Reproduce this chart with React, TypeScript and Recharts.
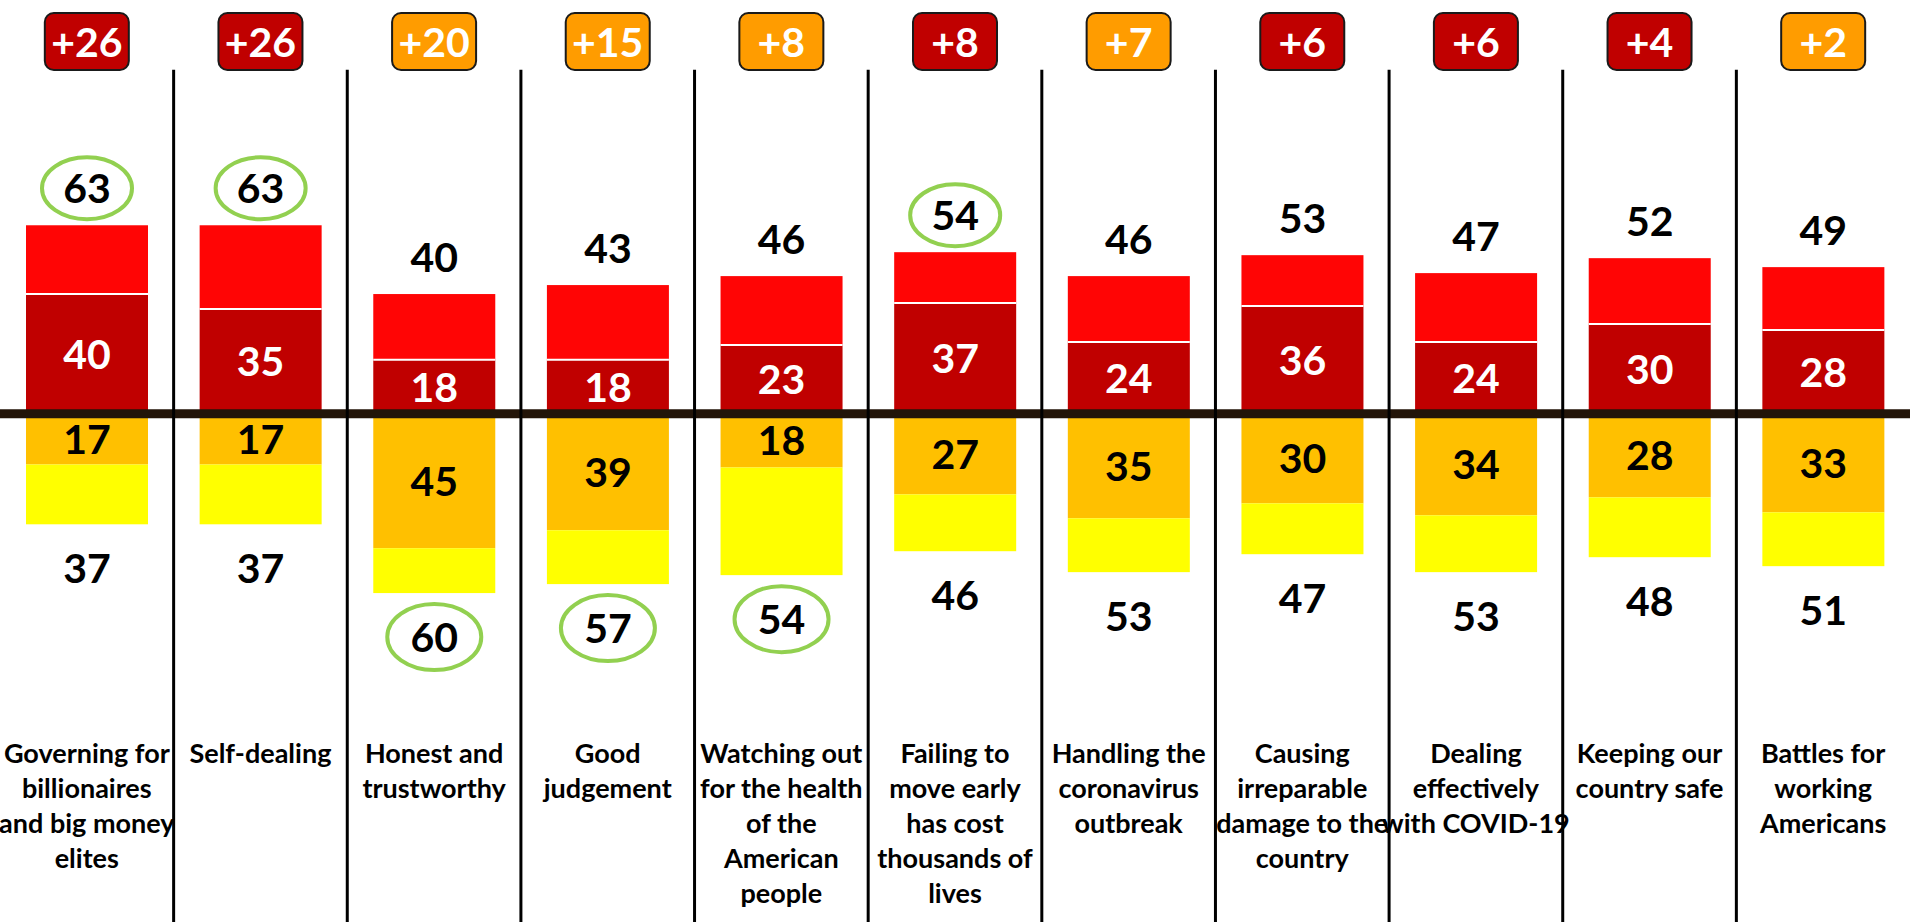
import React from "react";
import { BarChart, Bar, XAxis, YAxis, ReferenceLine } from "recharts";

const categories = [
  "Governing for\nbillionaires\nand big money\nelites",
  "Self-dealing",
  "Honest and\ntrustworthy",
  "Good\njudgement",
  "Watching out\nfor the health\nof the\nAmerican\npeople",
  "Failing to\nmove early\nhas cost\nthousands of\nlives",
  "Handling the\ncoronavirus\noutbreak",
  "Causing\nirreparable\ndamage to the\ncountry",
  "Dealing\neffectively\nwith COVID-19",
  "Keeping our\ncountry safe",
  "Battles for\nworking\nAmericans",
];
const strongTop = [40, 35, 18, 18, 23, 37, 24, 36, 24, 30, 28];
const totalTop = [63, 63, 40, 43, 46, 54, 46, 53, 47, 52, 49];
const strongBottom = [17, 17, 45, 39, 18, 27, 35, 30, 34, 28, 33];
const totalBottom = [37, 37, 60, 57, 54, 46, 53, 47, 53, 48, 51];
const margins = [26, 26, 20, 15, 8, 8, 7, 6, 6, 4, 2];
const marginSide = ["red", "red", "orange", "orange", "orange", "red", "orange", "red", "red", "red", "orange"];
const circled = ["top", "top", "bottom", "bottom", "bottom", "top", "", "", "", "", ""];

const FONT = "Lato, 'Open Sans', sans-serif";
const GREEN = "#92D050";

const rows = categories.map((name, i) => ({
  name,
  strong: strongTop[i],
  rest: totalTop[i] - strongTop[i],
  strongNeg: -strongBottom[i],
  restNeg: -(totalBottom[i] - strongBottom[i]),
  totalTop: totalTop[i],
  totalBottom: totalBottom[i],
  strongBottom: strongBottom[i],
  circle: circled[i],
}));

function box(p: any) {
  const h = Number(p.height) || 0;
  return { x: p.x, y: Math.min(p.y, p.y + h), w: p.width, h: Math.abs(h) };
}

function Num({ x, y, value, fill = "#000" }: any) {
  return (
    <text x={x} y={y} dy="0.36em" textAnchor="middle" fill={fill} fontSize={41} fontWeight={700} fontFamily={FONT}>
      {value}
    </text>
  );
}

const StrongShape = (p: any) => {
  const b = box(p);
  return (
    <g>
      <rect x={b.x} y={b.y} width={b.w} height={b.h} fill="#C00000" />
      <Num x={b.x + b.w / 2} y={b.y + b.h / 2} value={p.payload.strong} fill="#fff" />
    </g>
  );
};

const RestShape = (p: any) => {
  const b = box(p);
  const cx = b.x + b.w / 2;
  const cy = b.y - 37;
  return (
    <g>
      <rect x={b.x} y={b.y} width={b.w} height={b.h} fill="#FF0505" />
      <line x1={b.x} x2={b.x + b.w} y1={b.y + b.h} y2={b.y + b.h} stroke="#fff" strokeWidth={2} />
      {p.payload.circle === "top" && (
        <ellipse cx={cx} cy={cy} rx={45} ry={31} fill="none" stroke={GREEN} strokeWidth={4} />
      )}
      <Num x={cx} y={cy} value={p.payload.totalTop} />
    </g>
  );
};

const StrongNegShape = (p: any) => {
  const b = box(p);
  return (
    <g>
      <rect x={b.x} y={b.y} width={b.w} height={b.h} fill="#FFC000" />
      <Num x={b.x + b.w / 2} y={b.y + b.h / 2} value={p.payload.strongBottom} />
    </g>
  );
};

const RestNegShape = (p: any) => {
  const b = box(p);
  const cx = b.x + b.w / 2;
  const cy = b.y + b.h + 44;
  return (
    <g>
      <rect x={b.x} y={b.y} width={b.w} height={b.h} fill="#FFFF00" />
      {p.payload.circle === "bottom" && (
        <ellipse cx={cx} cy={cy} rx={47} ry={33} fill="none" stroke={GREEN} strokeWidth={4} />
      )}
      <Num x={cx} y={cy} value={p.payload.totalBottom} />
    </g>
  );
};

const BadgeTick = ({ x, y, index }: any) => {
  const fill = marginSide[index] === "red" ? "#C00000" : "#FF9C00";
  return (
    <g>
      <rect x={x - 42} y={y + 12} width={84} height={57} rx={9} fill={fill} stroke="#1a1a1a" strokeWidth={2} />
      <text x={x} y={y + 41} dy="0.36em" textAnchor="middle" fill="#fff" fontSize={41} fontWeight={700} fontFamily={FONT}>
        +{margins[index]}
      </text>
    </g>
  );
};

const CategoryTick = ({ x, y, payload }: any) => {
  const lines = String(payload.value).split("\n");
  return (
    <text textAnchor="middle" fill="#000" fontSize={27} fontWeight={700} fontFamily={FONT}>
      {lines.map((l, k) => (
        <tspan key={k} x={x} y={y - 169 + k * 35} dy="0.36em">
          {l}
        </tspan>
      ))}
    </text>
  );
};

export default function App() {
  return (
    <div style={{ width: 1915, height: 923, background: "#fff" }}>
      <style>{"body{margin:0}"}</style>
      <BarChart
        width={1915}
        height={923}
        data={rows}
        stackOffset="sign"
        margin={{ top: 0, right: 5, left: 0, bottom: 0 }}
      >
        <XAxis
          dataKey="name"
          height={1}
          axisLine={false}
          tickLine={false}
          tickSize={0}
          tickMargin={0}
          interval={0}
          tick={<CategoryTick />}
        />
        <XAxis
          xAxisId="top"
          orientation="top"
          dataKey="name"
          height={1}
          axisLine={false}
          tickLine={false}
          tickSize={0}
          tickMargin={0}
          interval={0}
          tick={<BadgeTick />}
        />
        <YAxis hide domain={[-170, 138]} />
        <Bar dataKey="strong" stackId="a" barSize={122} shape={<StrongShape />} isAnimationActive={false} />
        <Bar dataKey="rest" stackId="a" barSize={122} shape={<RestShape />} isAnimationActive={false} />
        <Bar dataKey="strongNeg" stackId="a" barSize={122} shape={<StrongNegShape />} isAnimationActive={false} />
        <Bar dataKey="restNeg" stackId="a" barSize={122} shape={<RestNegShape />} isAnimationActive={false} />
        <ReferenceLine y={0} stroke="#231509" strokeWidth={9} />
        {categories.slice(1).map((c) => (
          <ReferenceLine
            key={c}
            segment={[{ x: c, y: 115 }, { x: c, y: -170 }]}
            position="start"
            stroke="#000"
            strokeWidth={3}
          />
        ))}
      </BarChart>
    </div>
  );
}
